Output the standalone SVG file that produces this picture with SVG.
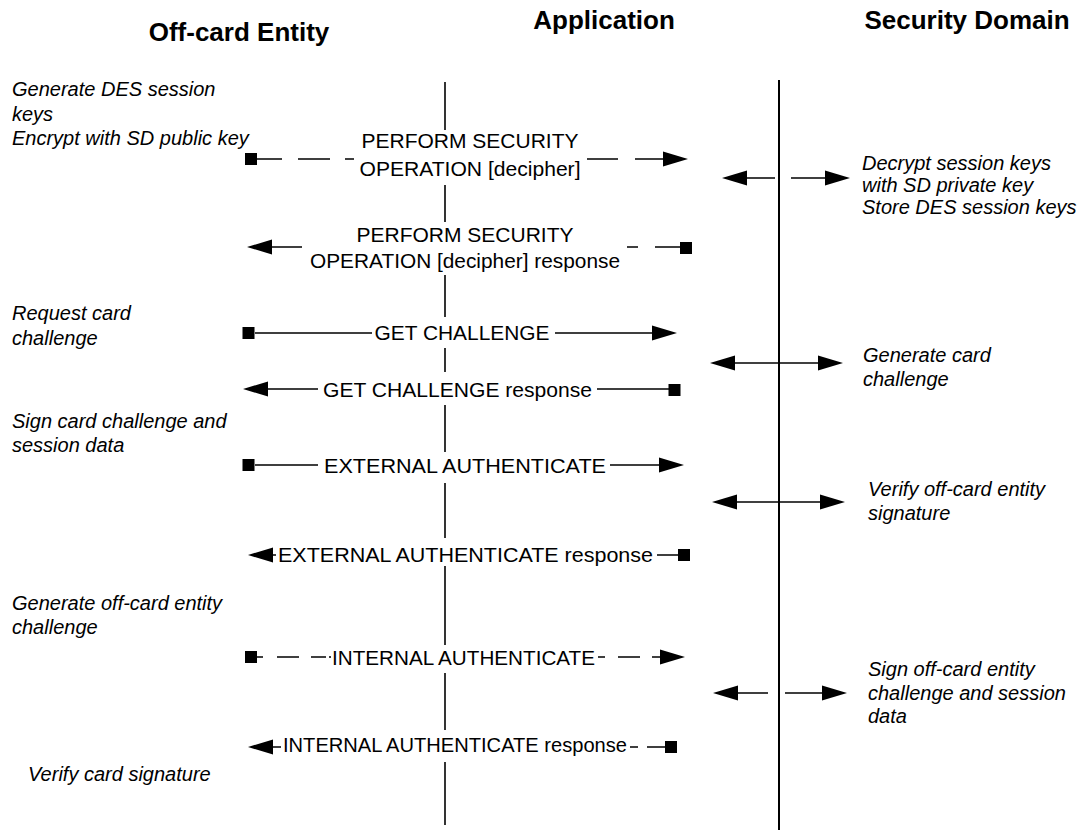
<svg xmlns="http://www.w3.org/2000/svg" xmlns:xlink="http://www.w3.org/1999/xlink" width="1088" height="832" viewBox="0 0 1088 832">
<style>
.title{font-family:"Liberation Sans",Arial,sans-serif;font-weight:bold;font-size:26px;fill:#000;text-anchor:middle}
.lbl{font-family:"Liberation Sans",Arial,sans-serif;font-size:21px;fill:#000;text-anchor:middle}
.note{font-family:"Liberation Sans",Arial,sans-serif;font-style:italic;font-size:20px;fill:#000}
.life{stroke:#000;fill:none}
.conn{stroke:#000;stroke-width:1.5;fill:none}
.bg{fill:#fff}
</style>
<defs>
<path id="ahR" d="M0,0 L-25,-7.5 L-25,7.5 Z" fill="#000"/>
<path id="ahL" d="M0,0 L25,-7.5 L25,7.5 Z" fill="#000"/>
<rect id="sq" x="-6" y="-6" width="12" height="12" fill="#000"/>
</defs>
<rect width="1088" height="832" fill="#fff"/>

<g id="off-card-entity">
<text class="title" x="239" y="41">Off-card Entity</text>
</g>
<g id="application">
<text class="title" x="604" y="29">Application</text>
<line class="life" x1="445" y1="82" x2="445" y2="825" stroke-width="1.6"/>
</g>
<g id="security-domain">
<text class="title" x="967" y="29">Security Domain</text>
<line class="life" x1="779" y1="80" x2="779" y2="830" stroke-width="2"/>
</g>

<g id="connectors">
<path class="conn" d="M257,159H282M298,159H330M345,159H354M587,159H618M635,159H665"/>
<use xlink:href="#sq" x="251" y="159"/>
<use xlink:href="#ahR" x="688" y="159"/>
<path class="conn" d="M271,247H302M627,247H638M655,247H682"/>
<use xlink:href="#ahL" x="247" y="247"/>
<use xlink:href="#sq" x="686" y="248"/>
<path class="conn" d="M255,333H372M555,333H654"/>
<use xlink:href="#sq" x="248.5" y="333"/>
<use xlink:href="#ahR" x="677" y="333"/>
<path class="conn" d="M265,389H318M597,389H670"/>
<use xlink:href="#ahL" x="243" y="389"/>
<use xlink:href="#sq" x="674.5" y="390"/>
<path class="conn" d="M255,465H318M610,465H660"/>
<use xlink:href="#sq" x="248.5" y="465"/>
<use xlink:href="#ahR" x="684" y="465"/>
<path class="conn" d="M273,555H276M657,555H680"/>
<use xlink:href="#ahL" x="248" y="555"/>
<use xlink:href="#sq" x="684" y="555"/>
<path class="conn" d="M257,657H263M277,657H299M311,657H326M329,657H331M598,657H605M618,657H640M652,657H665"/>
<use xlink:href="#sq" x="251" y="657"/>
<use xlink:href="#ahR" x="685" y="657"/>
<path class="conn" d="M273,747H281M630,747H638M647,747H666"/>
<use xlink:href="#ahL" x="248" y="747"/>
<use xlink:href="#sq" x="671" y="747"/>
<path class="conn" d="M743,178H775M791,178H830"/>
<use xlink:href="#ahL" x="722" y="178"/>
<use xlink:href="#ahR" x="850" y="178"/>
<path class="conn" d="M733,363H820"/>
<use xlink:href="#ahL" x="710" y="363"/>
<use xlink:href="#ahR" x="843" y="363"/>
<path class="conn" d="M735,502H822"/>
<use xlink:href="#ahL" x="712" y="502"/>
<use xlink:href="#ahR" x="845" y="502"/>
<path class="conn" d="M736,693H768M785,693H824"/>
<use xlink:href="#ahL" x="713" y="693"/>
<use xlink:href="#ahR" x="847" y="693"/>
</g>

<g id="msg-pso">
<rect class="bg" x="356" y="130" width="229" height="55"/>
<text class="lbl" x="470" y="148">PERFORM SECURITY</text>
<text class="lbl" x="470" y="176" textLength="221" lengthAdjust="spacingAndGlyphs">OPERATION [decipher]</text>
</g>
<g id="msg-pso-resp">
<rect class="bg" x="304" y="222" width="320" height="53"/>
<text class="lbl" x="465" y="242" textLength="217" lengthAdjust="spacingAndGlyphs">PERFORM SECURITY</text>
<text class="lbl" x="465" y="268" textLength="310" lengthAdjust="spacingAndGlyphs">OPERATION [decipher] response</text>
</g>
<g id="msg-gc">
<rect class="bg" x="372" y="317" width="181" height="31"/>
<text class="lbl" x="462" y="340" textLength="175" lengthAdjust="spacingAndGlyphs">GET CHALLENGE</text>
</g>
<g id="msg-gc-resp">
<rect class="bg" x="320" y="372" width="275" height="33"/>
<text class="lbl" x="457.5" y="397" textLength="269" lengthAdjust="spacingAndGlyphs">GET CHALLENGE response</text>
</g>
<g id="msg-ea">
<rect class="bg" x="321" y="452" width="287" height="31"/>
<text class="lbl" x="465" y="473" textLength="282" lengthAdjust="spacingAndGlyphs">EXTERNAL AUTHENTICATE</text>
</g>
<g id="msg-ea-resp">
<rect class="bg" x="277" y="538" width="379" height="28"/>
<text class="lbl" x="465.5" y="562" textLength="375" lengthAdjust="spacingAndGlyphs">EXTERNAL AUTHENTICATE response</text>
</g>
<g id="msg-ia">
<rect class="bg" x="331" y="645" width="266" height="28"/>
<text class="lbl" x="463.5" y="665" textLength="263" lengthAdjust="spacingAndGlyphs">INTERNAL AUTHENTICATE</text>
</g>
<g id="msg-ia-resp">
<rect class="bg" x="282" y="730" width="347" height="32"/>
<text class="lbl" x="455" y="752" textLength="344" lengthAdjust="spacingAndGlyphs">INTERNAL AUTHENTICATE response</text>
</g>

<g id="note-gen-des">
<text class="note" x="12" y="96">Generate DES session</text>
<text class="note" x="12" y="121">keys</text>
<text class="note" x="12" y="145">Encrypt with SD public key</text>
</g>
<g id="note-req-chal">
<text class="note" x="12" y="320">Request card</text>
<text class="note" x="12" y="345">challenge</text>
</g>
<g id="note-sign-card">
<text class="note" x="12" y="428">Sign card challenge and</text>
<text class="note" x="12" y="452">session data</text>
</g>
<g id="note-gen-off">
<text class="note" x="12" y="610">Generate off-card entity</text>
<text class="note" x="12" y="634">challenge</text>
</g>
<g id="note-verify-card">
<text class="note" x="28" y="781">Verify card signature</text>
</g>
<g id="note-decrypt">
<text class="note" x="862" y="170">Decrypt session keys</text>
<text class="note" x="862" y="192">with SD private key</text>
<text class="note" x="862" y="214">Store DES session keys</text>
</g>
<g id="note-gen-card">
<text class="note" x="863" y="362">Generate card</text>
<text class="note" x="863" y="386">challenge</text>
</g>
<g id="note-verify-off">
<text class="note" x="868" y="496">Verify off-card entity</text>
<text class="note" x="868" y="520">signature</text>
</g>
<g id="note-sign-off">
<text class="note" x="868" y="676">Sign off-card entity</text>
<text class="note" x="868" y="700">challenge and session</text>
<text class="note" x="868" y="723">data</text>
</g>
</svg>
